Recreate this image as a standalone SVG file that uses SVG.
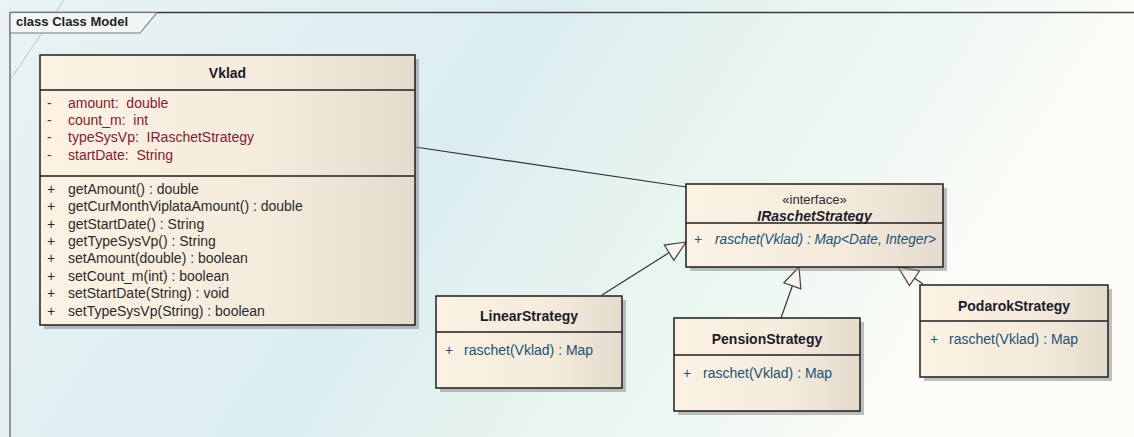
<svg xmlns="http://www.w3.org/2000/svg" width="1134" height="437" viewBox="0 0 1134 437">
  <style>
    text { font-family: "Liberation Sans", Arial, sans-serif; font-size: 14px; white-space: pre; }
    .title { font-weight: bold; fill: #1c1c2a; text-anchor: middle; }
    .attr { fill: #84202e; }
    .op { fill: #2a2a2a; }
    .sop { fill: #235273; }
    .box { fill: url(#boxFill); stroke: #1e1e1e; stroke-width: 1.5; }
    .shadow { fill: #8d8d8d; opacity: 0.55; }
    .sep { stroke: #1e1e1e; stroke-width: 1.3; }
    .conn { fill: none; stroke: #333; stroke-width: 1.2; }
  </style>
  <defs>
    <linearGradient id="bg" x1="0" y1="0" x2="1" y2="0.25">
      <stop offset="0" stop-color="#eaf3f4"/>
      <stop offset="0.45" stop-color="#dcedf0"/>
      <stop offset="0.7" stop-color="#e9f5f0"/>
      <stop offset="1" stop-color="#fdfdf8"/>
    </linearGradient>
    <linearGradient id="boxFill" x1="0" y1="0" x2="1" y2="0">
      <stop offset="0" stop-color="#fcf2e4"/>
      <stop offset="0.6" stop-color="#f5ebdd"/>
      <stop offset="1" stop-color="#e4dbce"/>
    </linearGradient>
    <!-- hollow generalization triangle, drawn in user units -->
    <marker id="gen" viewBox="-2 -2 24 24" refX="20" refY="10" markerWidth="24" markerHeight="24" markerUnits="userSpaceOnUse" orient="auto" overflow="visible">
      <path d="M20,10 L0,1 L0,19 Z" fill="#fbf4ec" stroke="#444" stroke-width="1.2"/>
    </marker>
  </defs>

  <!-- background and diagram frame -->
  <rect x="0" y="0" width="1134" height="437" fill="url(#bg)"/>
  <line x1="10" y1="80" x2="64" y2="0" stroke="#b9c0c0" stroke-width="1"/>
  <line x1="10" y1="12.5" x2="1134" y2="12.5" stroke="#3a3a3a" stroke-width="1.4"/>
  <line x1="10" y1="12" x2="10" y2="437" stroke="#8f9595" stroke-width="2"/>
  <g id="frame-tab">
    <path d="M10,12.5 L157,12.5 L140,33 L10,33 Z" fill="#f6f9f7" fill-opacity="0.7" stroke="#7a7a7a" stroke-width="1.1"/>
    <text x="16" y="26" style="font-weight:bold; font-size:13px; fill:#222;">class Class Model</text>
  </g>

  <!-- connectors -->
  <g id="connectors">
    <line class="conn" x1="415" y1="147" x2="686" y2="187"/>
    <line class="conn" x1="602" y1="295" x2="686" y2="242" marker-end="url(#gen)"/>
    <line class="conn" x1="781" y1="318" x2="799" y2="267" marker-end="url(#gen)"/>
    <line class="conn" x1="923" y1="284" x2="898" y2="267" marker-end="url(#gen)"/>
  </g>

  <!-- Vklad -->
  <g id="Vklad">
    <rect class="shadow" x="44" y="59" width="375" height="270"/>
    <rect class="box" x="40" y="55" width="375" height="270"/>
    <line class="sep" x1="40" y1="90" x2="415" y2="90"/>
    <line class="sep" x1="40" y1="176" x2="415" y2="176"/>
    <text class="title" x="227.5" y="78">Vklad</text>
    <g class="attr">
      <text x="47" y="107.5">-</text><text x="68" y="107.5">amount:  double</text>
      <text x="47" y="124.9">-</text><text x="68" y="124.9">count_m:  int</text>
      <text x="47" y="142.3">-</text><text x="68" y="142.3">typeSysVp:  IRaschetStrategy</text>
      <text x="47" y="159.7">-</text><text x="68" y="159.7">startDate:  String</text>
    </g>
    <g class="op">
      <text x="47" y="193.8">+</text><text x="68" y="193.8">getAmount() : double</text>
      <text x="47" y="211.2">+</text><text x="68" y="211.2">getCurMonthViplataAmount() : double</text>
      <text x="47" y="228.6">+</text><text x="68" y="228.6">getStartDate() : String</text>
      <text x="47" y="246">+</text><text x="68" y="246">getTypeSysVp() : String</text>
      <text x="47" y="263.4">+</text><text x="68" y="263.4">setAmount(double) : boolean</text>
      <text x="47" y="280.8">+</text><text x="68" y="280.8">setCount_m(int) : boolean</text>
      <text x="47" y="298.2">+</text><text x="68" y="298.2">setStartDate(String) : void</text>
      <text x="47" y="315.6">+</text><text x="68" y="315.6">setTypeSysVp(String) : boolean</text>
    </g>
  </g>

  <!-- IRaschetStrategy -->
  <g id="IRaschetStrategy">
    <rect class="shadow" x="690" y="188" width="257" height="83"/>
    <rect class="box" x="686" y="184" width="257" height="83"/>
    <line class="sep" x1="686" y1="223" x2="943" y2="223"/>
    <text x="814.5" y="203.5" style="font-size:13px; fill:#2a2a2a; text-anchor:middle;">«interface»</text>
    <text class="title" x="814.5" y="221" style="font-style:italic;">IRaschetStrategy</text>
    <text class="sop" x="694" y="244">+</text>
    <text class="sop" x="715" y="244" style="font-style:italic;" textLength="221" lengthAdjust="spacingAndGlyphs">raschet(Vklad) : Map&lt;Date, Integer&gt;</text>
  </g>

  <!-- LinearStrategy -->
  <g id="LinearStrategy">
    <rect class="shadow" x="440" y="300" width="186" height="92"/>
    <rect class="box" x="436" y="296" width="186" height="92"/>
    <line class="sep" x1="436" y1="332" x2="622" y2="332"/>
    <text class="title" x="529" y="321">LinearStrategy</text>
    <text class="sop" x="445" y="355">+</text>
    <text class="sop" x="464" y="355">raschet(Vklad) : Map</text>
  </g>

  <!-- PensionStrategy -->
  <g id="PensionStrategy">
    <rect class="shadow" x="678" y="322" width="186" height="93"/>
    <rect class="box" x="674" y="318" width="186" height="93"/>
    <line class="sep" x1="674" y1="355" x2="860" y2="355"/>
    <text class="title" x="767" y="344">PensionStrategy</text>
    <text class="sop" x="683" y="378">+</text>
    <text class="sop" x="703" y="378">raschet(Vklad) : Map</text>
  </g>

  <!-- PodarokStrategy -->
  <g id="PodarokStrategy">
    <rect class="shadow" x="924" y="289" width="188" height="92"/>
    <rect class="box" x="920" y="285" width="188" height="92"/>
    <line class="sep" x1="920" y1="321" x2="1108" y2="321"/>
    <text class="title" x="1014" y="311">PodarokStrategy</text>
    <text class="sop" x="930" y="344">+</text>
    <text class="sop" x="949" y="344">raschet(Vklad) : Map</text>
  </g>
</svg>
